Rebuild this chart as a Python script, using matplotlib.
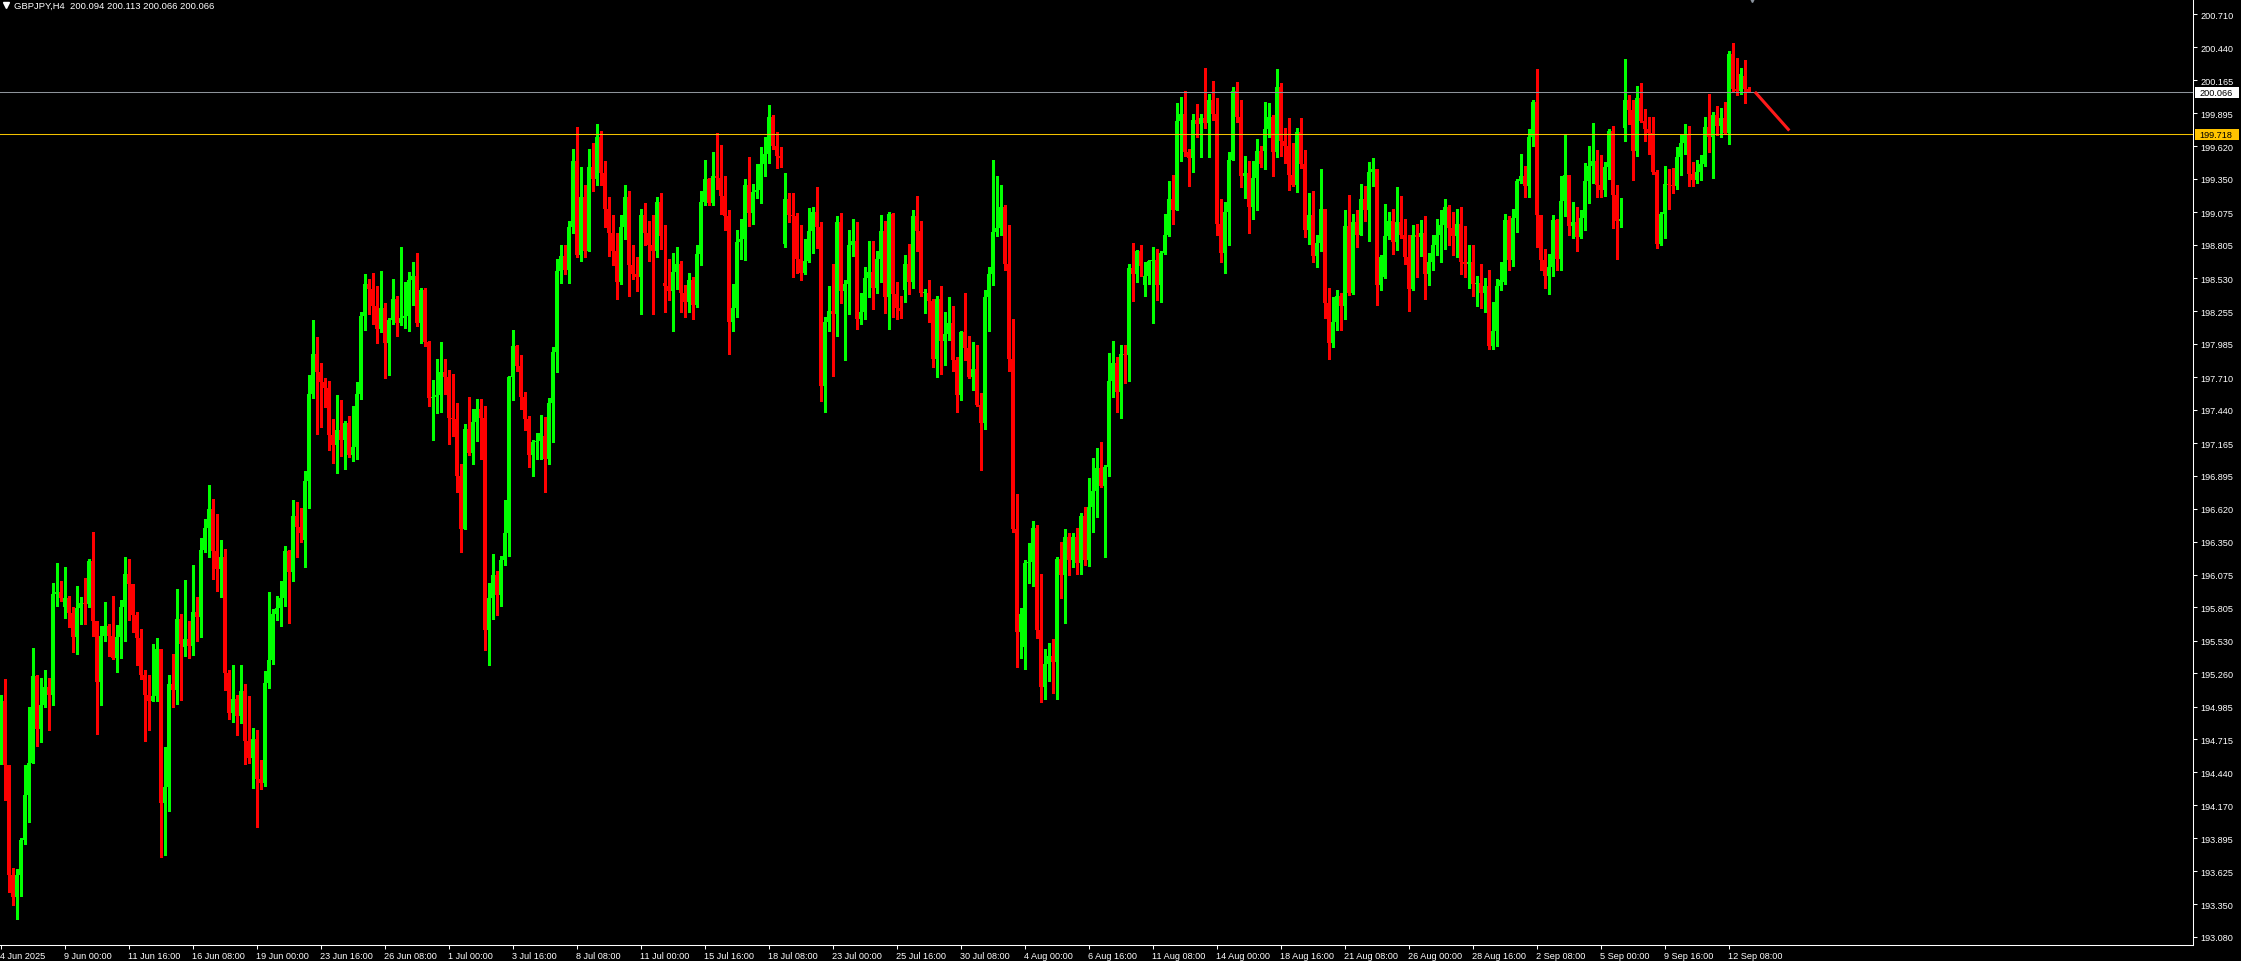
import matplotlib
matplotlib.use('Agg')
import matplotlib.pyplot as plt
import matplotlib.transforms as mtransforms
from matplotlib.lines import Line2D
from matplotlib.patches import Rectangle
import numpy as np

# GBPJPY H4 candles, 4 Jun 08:00 -> 15 Sep 04:00 (one row = six bars)
closes = [
    195.03, 194.50, 193.59, 193.41, 193.59, 193.88,
    194.25, 194.52, 195.24, 194.80, 195.00, 195.15,
    195.08, 195.92, 195.93, 195.88, 195.88, 195.76,
    195.56, 195.80, 195.84, 195.83, 196.19, 195.69,
    195.19, 195.57, 195.65, 195.57, 195.39, 195.56,
    195.81, 196.08, 196.00, 195.74, 195.55, 195.25,
    195.08, 195.03, 195.07, 195.46, 194.19, 194.32,
    195.17, 195.12, 195.71, 195.50, 195.54, 195.49,
    195.77, 195.73, 196.28, 196.46, 196.62, 196.27,
    196.12, 196.22, 195.26, 194.93, 195.05, 194.91,
    195.11, 194.70, 194.56, 194.72, 194.39, 194.35,
    195.18, 195.37, 195.75, 195.80, 195.88, 196.27,
    196.10, 196.56, 196.47, 196.42, 196.85, 197.57,
    197.90, 197.75, 197.67, 197.62, 197.23, 197.15,
    197.27, 197.19, 197.33, 197.07, 197.13, 197.57,
    198.22, 198.48, 198.44, 198.30, 198.11, 198.28,
    197.99, 198.18, 198.36, 198.16, 198.20, 198.22,
    198.51, 198.55, 198.16, 198.43, 198.00, 197.54,
    197.55, 197.56, 197.75, 197.71, 197.37, 197.36,
    196.89, 196.45, 197.28, 197.08, 197.34, 197.45,
    197.37, 195.62, 195.88, 196.07, 195.91, 196.20,
    196.42, 197.71, 197.97, 197.80, 197.55, 197.36,
    197.07, 197.17, 197.18, 197.25, 197.03, 197.50,
    197.92, 198.59, 198.71, 198.60, 198.95, 199.50,
    198.72, 199.20, 198.75, 199.45, 199.35, 199.70,
    199.40, 199.10, 198.90, 198.75, 198.50, 198.95,
    199.20, 198.64, 198.56, 198.54, 199.05, 198.90,
    198.80, 198.75, 199.16, 198.88, 198.46, 198.42,
    198.58, 198.65, 198.41, 198.33, 198.51, 198.31,
    198.73, 199.16, 199.35, 199.15, 199.37, 199.36,
    199.21, 199.04, 198.17, 198.28, 198.83, 198.85,
    199.30, 199.07, 199.24, 199.26, 199.47, 199.56,
    199.86, 199.62, 199.54, 199.52, 199.18, 199.05,
    199.04, 198.69, 198.57, 198.67, 198.92, 199.08,
    198.95, 197.64, 198.17, 198.26, 198.23, 198.99,
    198.42, 198.48, 198.80, 198.84, 198.19, 198.25,
    198.53, 198.58, 198.45, 198.69, 198.92, 198.37,
    199.06, 198.40, 198.28, 198.26, 198.65, 198.50,
    199.04, 198.92, 198.41, 198.41, 198.34, 197.86,
    198.36, 198.01, 198.07, 198.16, 197.85, 197.56,
    198.08, 197.95, 197.71, 197.78, 197.48, 197.33,
    198.37, 198.56, 198.91, 198.94, 199.12, 198.65,
    197.86, 196.45, 195.60, 195.75, 196.17, 196.18,
    196.46, 195.62, 195.15, 195.34, 195.40, 195.35,
    196.21, 196.07, 196.39, 196.20, 196.39, 196.17,
    196.56, 196.20, 196.64, 196.77, 196.96, 196.81,
    196.97, 197.68, 197.83, 197.59, 197.90, 197.89,
    198.61, 198.56, 198.75, 198.63, 198.55, 198.67,
    198.68, 198.47, 198.74, 198.89, 199.18, 199.09,
    199.83, 199.89, 199.57, 199.52, 199.84, 199.80,
    199.85, 199.81, 200.00, 199.89, 198.98, 198.74,
    199.08, 199.51, 200.08, 199.86, 199.37, 199.40,
    199.12, 199.36, 199.58, 199.47, 199.76, 199.86,
    199.57, 200.11, 199.66, 199.62, 199.38, 199.30,
    199.74, 199.47, 198.93, 199.05, 198.71, 198.82,
    199.10, 198.32, 197.99, 198.17, 198.38, 198.30,
    198.96, 198.41, 198.99, 198.89, 199.18, 199.09,
    199.41, 199.43, 198.47, 198.70, 198.88, 199.00,
    198.83, 198.99, 198.89, 198.70, 198.44, 198.89,
    198.87, 198.90, 198.56, 198.66, 198.80, 198.89,
    198.97, 199.12, 198.94, 198.88, 198.98, 198.66,
    198.65, 198.66, 198.48, 198.49, 198.41, 198.46,
    197.97, 198.09, 198.46, 198.51, 199.01, 198.68,
    199.03, 199.33, 199.37, 199.29, 199.70, 199.99,
    199.05, 198.68, 198.55, 198.62, 199.01, 198.69,
    199.17, 199.38, 198.96, 198.99, 198.87, 199.03,
    199.33, 199.46, 199.50, 199.30, 199.26, 199.45,
    199.75, 199.22, 199.00, 199.02, 200.00, 199.92,
    199.58, 200.02, 199.83, 199.76, 199.73, 199.41,
    198.81, 199.06, 199.31, 199.30, 199.29, 199.53,
    199.65, 199.71, 199.39, 199.34, 199.41, 199.47,
    199.78, 199.70, 199.88, 199.79, 199.85, 199.73,
    200.38, 200.09, 200.08, 200.22, 200.094, 200.066,
]

highs = [
    195.08, 195.21, 194.50, 193.65, 193.64, 193.90,
    194.50, 194.98, 195.47, 195.25, 195.22, 195.29,
    195.22, 196.01, 196.17, 196.02, 196.14, 195.90,
    195.81, 195.98, 195.89, 196.05, 196.21, 196.43,
    195.69, 195.65, 195.85, 195.67, 195.90, 195.66,
    195.87, 196.22, 196.21, 195.99, 195.77, 195.63,
    195.29, 195.25, 195.50, 195.55, 195.46, 194.65,
    195.25, 195.42, 195.96, 195.75, 196.03, 195.69,
    196.16, 195.89, 196.38, 196.54, 196.82, 196.70,
    196.58, 196.36, 196.29, 195.29, 195.33, 195.08,
    195.33, 195.17, 195.07, 194.81, 194.79, 194.54,
    195.28, 195.93, 195.79, 195.90, 196.02, 196.31,
    196.28, 196.69, 196.68, 196.63, 196.93, 197.73,
    198.18, 198.04, 197.83, 197.70, 197.68, 197.36,
    197.56, 197.52, 197.35, 197.39, 197.47, 197.67,
    198.25, 198.56, 198.52, 198.57, 198.46, 198.59,
    198.32, 198.20, 198.52, 198.38, 198.79, 198.50,
    198.58, 198.66, 198.74, 198.45, 198.45, 198.01,
    197.69, 197.86, 198.00, 197.86, 197.77, 197.74,
    197.50, 196.99, 197.32, 197.55, 197.45, 197.53,
    197.53, 197.47, 196.01, 196.25, 196.11, 196.23,
    196.69, 197.72, 198.10, 197.98, 197.89, 197.59,
    197.39, 197.19, 197.25, 197.40, 197.38, 197.54,
    197.96, 198.69, 198.80, 198.80, 199.00, 199.60,
    199.78, 199.45, 199.30, 199.60, 199.65, 199.80,
    199.75, 199.50, 199.20, 199.05, 198.90, 199.05,
    199.30, 199.25, 198.80, 198.70, 199.10, 199.15,
    199.00, 199.05, 199.20, 199.23, 198.97, 198.69,
    198.74, 198.79, 198.67, 198.47, 198.57, 198.54,
    198.80, 199.25, 199.51, 199.36, 199.57, 199.73,
    199.63, 199.37, 199.09, 198.48, 198.93, 199.02,
    199.35, 199.53, 199.31, 199.47, 199.61, 199.70,
    199.96, 199.88, 199.74, 199.61, 199.40, 199.23,
    199.23, 199.07, 198.97, 198.85, 199.11, 199.12,
    199.28, 198.99, 198.21, 198.46, 198.65, 199.04,
    199.07, 198.51, 198.93, 199.02, 198.99, 198.41,
    198.62, 198.84, 198.84, 198.75, 199.05, 199.00,
    199.08, 199.07, 198.50, 198.38, 198.72, 198.81,
    199.09, 199.21, 199.00, 198.44, 198.51, 198.36,
    198.38, 198.46, 198.25, 198.37, 198.30, 197.88,
    198.09, 198.41, 198.05, 198.00, 197.98, 197.58,
    198.43, 198.62, 199.51, 199.37, 199.30, 199.13,
    198.97, 198.19, 196.74, 195.80, 196.20, 196.34,
    196.52, 196.49, 196.08, 195.46, 195.51, 195.54,
    196.22, 196.35, 196.45, 196.42, 196.42, 196.46,
    196.59, 196.64, 196.88, 197.04, 197.12, 197.17,
    196.98, 197.91, 198.01, 197.88, 197.98, 197.98,
    198.65, 198.82, 198.76, 198.80, 198.66, 198.68,
    198.79, 198.77, 198.75, 199.06, 199.33, 199.38,
    199.98, 200.03, 200.08, 199.60, 199.89, 199.97,
    199.89, 200.27, 200.05, 200.16, 200.02, 199.18,
    199.16, 199.57, 200.11, 200.15, 200.00, 199.54,
    199.50, 199.50, 199.68, 199.62, 199.99, 199.98,
    199.88, 200.26, 200.14, 199.77, 199.85, 199.65,
    199.77, 199.85, 199.59, 199.23, 199.25, 198.89,
    199.43, 199.10, 198.45, 198.37, 198.43, 198.41,
    199.09, 199.22, 199.06, 199.09, 199.31, 199.29,
    199.49, 199.52, 199.42, 198.72, 199.14, 199.08,
    199.10, 199.28, 199.21, 199.02, 198.89, 198.97,
    198.98, 199.01, 199.04, 198.74, 198.89, 199.02,
    199.09, 199.18, 199.13, 199.08, 199.10, 199.12,
    198.96, 198.80, 198.80, 198.55, 198.65, 198.53,
    198.60, 198.33, 198.52, 198.66, 199.06, 199.04,
    199.10, 199.35, 199.56, 199.46, 199.76, 200.00,
    200.26, 199.05, 198.77, 198.73, 199.05, 199.02,
    199.37, 199.72, 199.38, 199.16, 199.12, 199.09,
    199.48, 199.62, 199.81, 199.59, 199.55, 199.49,
    199.76, 199.79, 199.30, 199.19, 200.34, 200.04,
    200.00, 200.12, 200.14, 199.93, 199.86, 199.86,
    199.42, 199.08, 199.46, 199.43, 199.44, 199.61,
    199.71, 199.80, 199.79, 199.49, 199.51, 199.55,
    199.86, 200.05, 199.90, 199.95, 199.94, 199.99,
    200.41, 200.47, 200.35, 200.27, 200.33, 200.113,
]

lows = [
    194.51, 194.21, 193.45, 193.34, 193.23, 193.42,
    193.85, 194.03, 194.52, 194.66, 194.69, 194.98,
    194.79, 195.00, 195.82, 195.86, 195.72, 195.64,
    195.44, 195.42, 195.67, 195.67, 195.81, 195.57,
    194.76, 195.00, 195.53, 195.40, 195.38, 195.27,
    195.39, 195.53, 195.70, 195.60, 195.33, 195.21,
    194.70, 194.79, 195.03, 195.03, 193.74, 193.76,
    194.12, 194.98, 195.01, 195.04, 195.40, 195.39,
    195.41, 195.53, 195.56, 196.26, 196.22, 196.04,
    195.94, 195.89, 195.12, 194.88, 194.86, 194.75,
    194.85, 194.51, 194.52, 194.31, 193.99, 194.30,
    194.33, 195.14, 195.34, 195.70, 195.65, 195.82,
    195.68, 196.02, 196.22, 196.35, 196.14, 196.63,
    197.54, 197.24, 197.30, 197.46, 197.11, 197.00,
    196.92, 197.06, 196.95, 197.05, 197.02, 197.03,
    197.53, 198.10, 198.23, 198.15, 197.99, 198.08,
    197.70, 197.73, 198.15, 198.05, 198.14, 198.12,
    198.09, 198.31, 198.13, 197.99, 197.97, 197.47,
    197.19, 197.41, 197.42, 197.57, 197.16, 197.22,
    196.76, 196.26, 196.45, 197.07, 196.99, 197.18,
    197.03, 195.45, 195.33, 195.71, 195.74, 195.82,
    196.16, 196.23, 197.52, 197.76, 197.45, 197.27,
    196.97, 196.89, 197.03, 197.03, 196.76, 196.99,
    197.17, 197.75, 198.49, 198.56, 198.49, 198.90,
    198.70, 198.67, 198.70, 198.75, 199.25, 199.30,
    199.30, 198.95, 198.71, 198.64, 198.36, 198.48,
    198.85, 198.38, 198.52, 198.42, 198.23, 198.80,
    198.67, 198.23, 198.70, 198.77, 198.25, 198.35,
    198.09, 198.44, 198.25, 198.21, 198.25, 198.19,
    198.29, 198.64, 199.13, 199.13, 199.13, 199.27,
    199.06, 198.93, 197.90, 198.09, 198.21, 198.69,
    198.68, 198.96, 198.98, 199.19, 199.15, 199.37,
    199.48, 199.60, 199.44, 199.45, 198.79, 198.99,
    198.54, 198.57, 198.51, 198.56, 198.66, 198.74,
    198.78, 197.51, 197.42, 198.09, 197.72, 198.05,
    198.32, 197.85, 198.23, 198.71, 198.11, 198.15,
    198.19, 198.37, 198.27, 198.41, 198.50, 198.24,
    198.11, 198.21, 198.19, 198.20, 198.33, 198.40,
    198.45, 198.75, 198.38, 198.24, 198.17, 197.79,
    197.71, 197.74, 197.81, 198.02, 197.76, 197.42,
    197.52, 197.85, 197.70, 197.60, 197.47, 196.94,
    197.28, 198.09, 198.47, 198.88, 198.89, 198.60,
    197.76, 196.43, 195.31, 195.39, 195.30, 196.01,
    195.98, 195.55, 195.02, 195.05, 195.20, 195.10,
    195.05, 195.88, 195.68, 196.07, 196.14, 196.08,
    196.08, 196.16, 196.15, 196.43, 196.55, 196.80,
    196.22, 196.89, 197.55, 197.42, 197.37, 197.66,
    197.68, 198.34, 198.50, 198.55, 198.38, 198.48,
    198.16, 198.35, 198.33, 198.73, 198.88, 198.98,
    199.09, 199.50, 199.54, 199.29, 199.41, 199.70,
    199.53, 199.77, 199.53, 199.84, 198.89, 198.66,
    198.57, 198.80, 199.51, 199.82, 199.28, 199.19,
    198.90, 199.02, 199.09, 199.45, 199.43, 199.70,
    199.37, 199.53, 199.54, 199.48, 199.26, 199.29,
    199.24, 199.44, 198.87, 198.81, 198.66, 198.62,
    198.75, 198.20, 197.86, 197.96, 198.10, 198.10,
    198.19, 198.39, 198.40, 198.79, 198.89, 199.00,
    198.84, 199.29, 198.31, 198.43, 198.53, 198.85,
    198.73, 198.76, 198.86, 198.65, 198.26, 198.43,
    198.54, 198.71, 198.36, 198.47, 198.60, 198.72,
    198.66, 198.77, 198.80, 198.72, 198.70, 198.56,
    198.54, 198.45, 198.38, 198.30, 198.28, 198.25,
    197.94, 197.94, 197.97, 198.43, 198.48, 198.60,
    198.63, 198.91, 199.32, 199.20, 199.20, 199.62,
    198.79, 198.60, 198.45, 198.40, 198.55, 198.60,
    198.60, 199.04, 198.89, 198.86, 198.75, 198.86,
    198.93, 199.15, 199.32, 199.20, 199.20, 199.21,
    199.35, 198.94, 198.69, 198.95, 199.66, 199.80,
    199.34, 199.54, 199.82, 199.66, 199.56, 199.39,
    198.78, 198.80, 198.86, 199.10, 199.23, 199.27,
    199.38, 199.56, 199.29, 199.29, 199.32, 199.34,
    199.46, 199.57, 199.36, 199.71, 199.70, 199.72,
    199.64, 200.07, 200.04, 200.05, 199.98, 200.066,
]

# bars that do not open at the previous close (first bar, Monday gaps)
gap_bars = [0, 16, 46, 76, 136, 166, 196, 226, 256, 286, 316, 346, 376, 406, 436]
gap_opens = [194.81, 195.81, 195.48, 196.36, 197.22, 198.49, 198.81, 198.43,
             195.48, 198.47, 199.58, 198.54, 198.50, 199.77, 200.20]

price_ticks = [200.710, 200.440, 200.165, 199.895, 199.620, 199.350, 199.075,
               198.805, 198.530, 198.255, 197.985, 197.710, 197.440, 197.165,
               196.895, 196.620, 196.350, 196.075, 195.805, 195.530, 195.260,
               194.985, 194.715, 194.440, 194.170, 193.895, 193.625, 193.350,
               193.080]

date_labels = ['4 Jun 2025', '9 Jun 00:00', '11 Jun 16:00', '16 Jun 08:00',
               '19 Jun 00:00', '23 Jun 16:00', '26 Jun 08:00', '1 Jul 00:00',
               '3 Jul 16:00', '8 Jul 08:00', '11 Jul 00:00', '15 Jul 16:00',
               '18 Jul 08:00', '23 Jul 00:00', '25 Jul 16:00', '30 Jul 08:00',
               '4 Aug 00:00', '6 Aug 16:00', '11 Aug 08:00', '14 Aug 00:00',
               '18 Aug 16:00', '21 Aug 08:00', '26 Aug 00:00', '28 Aug 16:00',
               '2 Sep 08:00', '5 Sep 00:00', '9 Sep 16:00', '12 Sep 08:00']
bars_per_label = 16

bid_price = 200.066
level_price = 199.718
header = 'GBPJPY,H4  200.094 200.113 200.066 200.066'

# hand drawn trend line (bar index, price)
trend_x = [438.6, 447.2]
trend_y = [200.07, 199.75]

W, H = 2241, 962
PLOT_W, PLOT_H = 2193, 946
PX_PER_BAR = 4.0
Y_TOP, Y_BOTTOM = 200.838, 193.013

UP = '#00ff00'
DOWN = '#ff0000'
FONT = 'Liberation Sans'


def draw_candles(ax, c, h, l):
    """
    Draws MT4 style candles: open is the previous close apart from gap bars
    """
    c = np.asarray(c)
    o = np.empty_like(c)
    o[1:] = c[:-1]
    o[gap_bars] = gap_opens
    h = np.maximum(np.asarray(h), np.maximum(o, c))
    l = np.minimum(np.asarray(l), np.minimum(o, c))
    x = np.arange(len(c))
    colors = np.where(c >= o, UP, DOWN)

    one_px = (Y_TOP - Y_BOTTOM) / PLOT_H
    ax.vlines(x, l, h, colors=colors, linewidth=0.75, antialiased=False)
    ax.bar(x, np.maximum(np.abs(c - o), one_px), bottom=np.minimum(o, c),
           width=0.75, color=colors, linewidth=0, antialiased=False)


def price_box(ax, fig, price, text, face):
    """
    Coloured price label sitting on the right price scale
    """
    trans = mtransforms.blended_transform_factory(fig.transFigure, ax.transData)
    box_h = 11 * (Y_TOP - Y_BOTTOM) / PLOT_H
    ax.add_patch(Rectangle((2195 / W, price - box_h / 2), 44 / W, box_h,
                           transform=trans, facecolor=face, edgecolor='none',
                           clip_on=False, zorder=5))
    ax.text(2199 / W, price, text, transform=trans, ha='left', va='center',
            color='black', fontsize=6.6, family=FONT, clip_on=False, zorder=6)


fig = plt.figure(figsize=(W / 100, H / 100), dpi=100, facecolor='black')
ax = fig.add_axes([0, (H - PLOT_H) / H, PLOT_W / W, PLOT_H / H])
ax.set_facecolor('black')
ax.set_autoscale_on(False)

draw_candles(ax, closes, highs, lows)

ax.axhline(bid_price, color='#8e949b', linewidth=0.75, zorder=3)
ax.axhline(level_price, color='#f2c200', linewidth=0.75, zorder=3)
ax.plot(trend_x, trend_y, color='#ff1a1a', linewidth=2.2, solid_capstyle='butt', zorder=4)

# chart shift marker on the top edge
top_trans = mtransforms.blended_transform_factory(ax.transData, ax.transAxes)
ax.plot([437.9], [1.0], marker='v', markersize=5, color='#8a939e',
        transform=top_trans, clip_on=False, zorder=6)

ax.set_xlim(-0.5 / PX_PER_BAR, (PLOT_W - 0.5) / PX_PER_BAR)
ax.set_ylim(Y_BOTTOM, Y_TOP)

# frame: only right and bottom, like the terminal
for side in ['left', 'top']:
    ax.spines[side].set_visible(False)
for side in ['right', 'bottom']:
    ax.spines[side].set_color('white')
    ax.spines[side].set_linewidth(0.75)

ax.yaxis.tick_right()
ax.set_yticks(price_ticks, labels=['%.3f' % p for p in price_ticks])
ax.tick_params(axis='y', direction='out', length=3, width=0.75, color='white',
               labelcolor='white', labelsize=6.6, pad=2.5)

ax.set_xticks(np.arange(len(date_labels)) * bars_per_label, labels=date_labels)
ax.tick_params(axis='x', direction='out', length=3, width=0.75, color='white',
               labelcolor='white', labelsize=6.6, pad=1)
for lab in ax.get_xticklabels() + ax.get_yticklabels():
    lab.set_family(FONT)
for lab in ax.get_xticklabels():
    lab.set_horizontalalignment('left')

price_box(ax, fig, bid_price, '%.3f' % bid_price, 'white')
price_box(ax, fig, level_price, '%.3f' % level_price, '#ffc400')

# symbol header with the little drop down arrow
fig.add_artist(Line2D([5.5 / W], [1 - 5.5 / H], marker='v', markersize=4,
                      color='white', transform=fig.transFigure))
fig.text(14 / W, 1 - 6 / H, header, color='white', fontsize=6.8, family=FONT,
         ha='left', va='center')

fig.savefig('out.png', dpi=100, facecolor='black')
